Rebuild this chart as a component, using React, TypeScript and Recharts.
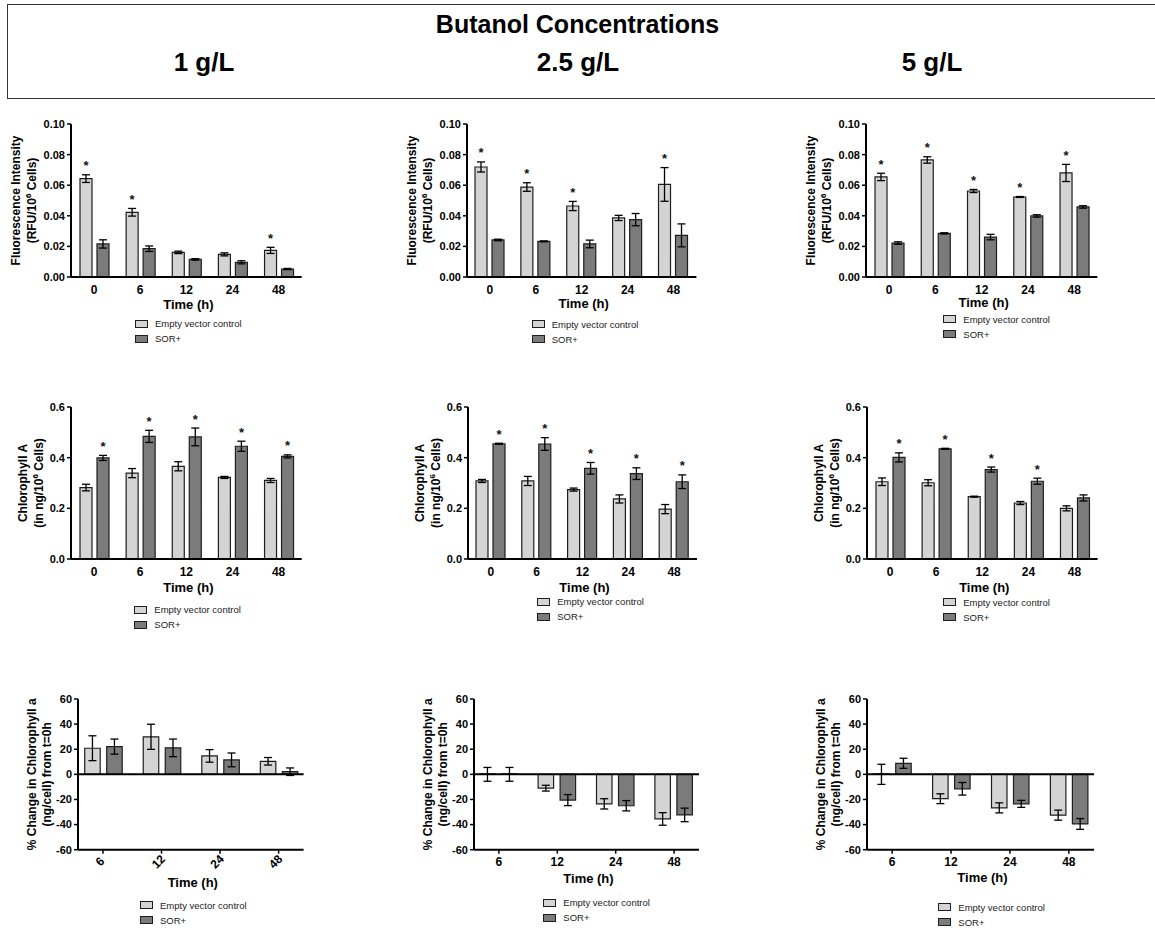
import React from 'react';
import { BarChart, Bar, XAxis, YAxis, ErrorBar, LabelList, Legend, ReferenceLine } from 'recharts';

const FONT = 'Arial, "Liberation Sans", Helvetica, sans-serif';
const LIGHT = '#d4d4d4';
const DARK = '#7b7b7b';
const EDGE = '#1e1e1e';

const hours = ['0', '6', '12', '24', '48'];
const changeHours = ['6', '12', '24', '48'];

// Fluorescence intensity (RFU / 10^6 cells)
const fl1Control = [0.0643, 0.0423, 0.0161, 0.0148, 0.0174];
const fl1ControlErr = [0.0025, 0.0025, 0.0008, 0.001, 0.002];
const fl1Sor = [0.0216, 0.0185, 0.0115, 0.0096, 0.0052];
const fl1SorErr = [0.0027, 0.0018, 0.0005, 0.001, 0.0004];
const fl1Sig = [true, true, false, false, true];

const fl25Control = [0.0719, 0.0588, 0.0464, 0.0386, 0.0605];
const fl25ControlErr = [0.0033, 0.0028, 0.003, 0.0017, 0.011];
const fl25Sor = [0.0242, 0.0233, 0.0216, 0.0375, 0.0272];
const fl25SorErr = [0.0005, 0.0003, 0.0025, 0.004, 0.0075];
const fl25Sig = [true, true, true, false, true];

const fl5Control = [0.0654, 0.0765, 0.0562, 0.0523, 0.068];
const fl5ControlErr = [0.0024, 0.0021, 0.001, 0.0003, 0.0056];
const fl5Sor = [0.0222, 0.0285, 0.0261, 0.0399, 0.0458];
const fl5SorErr = [0.0008, 0.0004, 0.0018, 0.0008, 0.0008];
const fl5Sig = [true, true, true, true, true];

// Chlorophyll A (ng / 10^6 cells)
const chl1Control = [0.282, 0.339, 0.366, 0.322, 0.31];
const chl1ControlErr = [0.013, 0.018, 0.018, 0.004, 0.008];
const chl1Sor = [0.399, 0.484, 0.482, 0.445, 0.405];
const chl1SorErr = [0.01, 0.024, 0.035, 0.02, 0.006];
const chl1Sig = [true, true, true, true, true];

const chl25Control = [0.308, 0.308, 0.274, 0.237, 0.197];
const chl25ControlErr = [0.006, 0.018, 0.006, 0.016, 0.018];
const chl25Sor = [0.455, 0.454, 0.358, 0.337, 0.305];
const chl25SorErr = [0.002, 0.025, 0.023, 0.023, 0.027];
const chl25Sig = [true, true, true, true, true];

const chl5Control = [0.305, 0.301, 0.246, 0.221, 0.2];
const chl5ControlErr = [0.015, 0.012, 0.002, 0.006, 0.01];
const chl5Sor = [0.401, 0.435, 0.353, 0.307, 0.241];
const chl5SorErr = [0.018, 0.002, 0.01, 0.012, 0.012];
const chl5Sig = [true, true, true, true, false];

// % change in chlorophyll a from t=0h
const ch1Control = [20.8, 29.9, 14.7, 10.4];
const ch1ControlErr = [9.9, 10, 5, 3];
const ch1Sor = [22.1, 21.1, 11.5, 2.1];
const ch1SorErr = [6, 7, 5.5, 3];

const ch25Control = [0, -11, -23.5, -35.5];
const ch25ControlErr = [5.5, 2.3, 4.1, 5];
const ch25Sor = [0, -20.5, -25, -32.3];
const ch25SorErr = [5.5, 4.4, 4.1, 5.4];

const ch5Control = [0, -19.4, -26.7, -32.5];
const ch5ControlErr = [8, 3.9, 4, 4];
const ch5Sor = [8.8, -11.5, -23.5, -39.5];
const ch5SorErr = [4, 5, 2.8, 4.3];

const noSig = [false, false, false, false];

const flTicks = [0, 0.02, 0.04, 0.06, 0.08, 0.1];
const chlTicks = [0, 0.2, 0.4, 0.6];
const changeTicks = [-60, -40, -20, 0, 20, 40, 60];

const LEFT = 80;
const TOP = 25;
const RIGHT = 8;

type PanelProps = {
  axisX: number;
  axisEnd: number;
  top: number;
  bottom: number;
  categories: string[];
  control: number[];
  controlErr: number[];
  sor: number[];
  sorErr: number[];
  sig: boolean[];
  sigOn: 'control' | 'sor';
  domain: [number, number];
  ticks: number[];
  digits: number;
  yLabel: 'fl' | 'chl' | 'change';
  yDx: [number, number];
  barSize: number;
  barGap: number;
  pad: number;
  zeroLine?: boolean;
  rotate?: boolean;
  xTickLine?: boolean;
  tickDy: number;
  timeDy: number;
  legendX: number;
  legendY: number;
};

function yLabelLines(kind: PanelProps['yLabel']) {
  if (kind === 'fl')
    return [
      <>Fluorescence Intensity</>,
      <>
        (RFU/10<tspan dy={-4} fontSize={8}>6</tspan>
        <tspan dy={4}> Cells)</tspan>
      </>,
    ];
  if (kind === 'chl')
    return [
      <>Chlorophyll A</>,
      <>
        (in ng/10<tspan dy={-4} fontSize={8}>6</tspan>
        <tspan dy={4}> Cells)</tspan>
      </>,
    ];
  return [<>% Change in Chlorophyll a</>, <>(ng/cell) from t=0h</>];
}

function Panel(p: PanelProps) {
  const data = p.categories.map((time, i) => ({
    time,
    control: p.control[i],
    controlErr: p.controlErr[i],
    sor: p.sor[i],
    sorErr: p.sorErr[i],
  }));
  const plotW = p.axisEnd - p.axisX;
  const plotH = p.bottom - p.top;
  const width = plotW + LEFT + RIGHT;
  const height = plotH + TOP + 80;
  const left = p.axisX - LEFT;
  const topPx = p.top - TOP;
  const lines = yLabelLines(p.yLabel);

  const starValues = p.sigOn === 'control' ? p.control : p.sor;
  const starErrs = p.sigOn === 'control' ? p.controlErr : p.sorErr;

  // asterisk sits a fixed distance above the top of the error bar
  const renderStar = (props: any) => {
    const vb = props.viewBox ?? props;
    const x = Number(props.x ?? vb.x);
    const y = Number(props.y ?? vb.y);
    const w = Number(props.width ?? vb.width);
    const h = Number(props.height ?? vb.height);
    const i = props.index;
    if (!p.sig[i] || !starValues[i]) return null;
    const errTop = y - (starErrs[i] * h) / starValues[i];
    return (
      <text key={`s${i}`} x={x + w / 2} y={errTop - 12 + 7.5} textAnchor="middle" fontSize={13} fontWeight={700} fontFamily={FONT} fill="#111">
        *
      </text>
    );
  };

  const renderTick = (props: any) => {
    const { x, y, payload } = props;
    const base = Number(y) - (p.xTickLine ? 4 : 0);
    if (p.rotate) {
      return (
        <text transform={`translate(${x - 3},${base + p.tickDy}) rotate(-45)`} textAnchor="middle" dominantBaseline="central" fontSize={12} fontWeight={700} fontFamily={FONT} fill="#000">
          {payload.value}
        </text>
      );
    }
    return (
      <text x={x} y={base + p.tickDy} textAnchor="middle" dominantBaseline="central" fontSize={12} fontWeight={700} fontFamily={FONT} fill="#000">
        {payload.value}
      </text>
    );
  };

  const renderTime = (props: any) => {
    const vb = props.viewBox;
    return (
      <text x={vb.x + vb.width / 2 + 2} y={vb.y + p.timeDy} textAnchor="middle" dominantBaseline="central" fontSize={13} fontWeight={700} fontFamily={FONT} fill="#000">
        Time (h)
      </text>
    );
  };

  const renderYLabel = (props: any) => {
    const vb = props.viewBox;
    const axis = vb.x + vb.width;
    const cy = vb.y + vb.height / 2;
    return (
      <g>
        {lines.map((line, k) => (
          <text key={k} transform={`translate(${axis - p.yDx[k]},${cy}) rotate(-90)`} textAnchor="middle" dominantBaseline="central" fontSize={12} fontWeight={700} fontFamily={FONT} fill="#000">
            {line}
          </text>
        ))}
      </g>
    );
  };

  const renderLegend = (props: any) => (
    <div style={{ fontFamily: FONT, fontSize: 9.5, color: '#222' }}>
      {(props.payload ?? []).map((entry: any) => (
        <div key={entry.value} style={{ display: 'flex', alignItems: 'center', height: 15, whiteSpace: 'nowrap' }}>
          <span style={{ display: 'inline-block', width: 13, height: 8, background: entry.color, border: `1px solid ${EDGE}`, boxSizing: 'border-box', marginRight: 7 }} />
          {entry.value}
        </div>
      ))}
    </div>
  );

  // a hairline minimum keeps zero-height bars (and their error bars) in the layout;
  // the zero line drawn on top hides it
  const minPt = p.zeroLine ? 0.5 : 0;

  return (
    <div style={{ position: 'absolute', left, top: topPx, width, height }}>
      <BarChart width={width} height={height} data={data} margin={{ top: TOP, right: RIGHT, bottom: 50, left: 0 }} barSize={p.barSize} barGap={p.barGap}>
        <XAxis
          dataKey="time"
          height={30}
          interval={0}
          padding={{ left: p.pad, right: p.pad }}
          axisLine={{ stroke: '#000', strokeWidth: 2 }}
          tickLine={p.xTickLine ? { stroke: '#000', strokeWidth: 1.5 } : false}
          tickSize={p.xTickLine ? 4 : 0}
          tickMargin={0}
          tick={renderTick}
          label={{ content: renderTime }}
        />
        <YAxis
          width={LEFT}
          domain={p.domain}
          ticks={p.ticks}
          interval={0}
          allowDataOverflow
          tickFormatter={(v: number) => v.toFixed(p.digits)}
          axisLine={{ stroke: '#000', strokeWidth: 2 }}
          tickLine={{ stroke: '#000', strokeWidth: 1.5 }}
          tickSize={4}
          tickMargin={2}
          tick={{ fontSize: 11, fontWeight: 700, fill: '#000', fontFamily: FONT }}
          label={{ content: renderYLabel }}
        />
        <Legend
          layout="vertical"
          align="center"
          verticalAlign="middle"
          content={renderLegend}
          wrapperStyle={{ left: p.legendX - left, top: p.legendY - 7.5 - topPx, width: 'auto', height: 'auto' }}
        />
        <Bar dataKey="control" name="Empty vector control" fill={LIGHT} stroke={EDGE} strokeWidth={1.2} minPointSize={minPt} isAnimationActive={false}>
          <ErrorBar dataKey="controlErr" width={4} stroke="#000" strokeWidth={1.3} isAnimationActive={false} />
          {p.sigOn === 'control' && <LabelList dataKey="control" content={renderStar} />}
        </Bar>
        <Bar dataKey="sor" name="SOR+" fill={DARK} stroke={EDGE} strokeWidth={1.2} minPointSize={minPt} isAnimationActive={false}>
          <ErrorBar dataKey="sorErr" width={4} stroke="#000" strokeWidth={1.3} isAnimationActive={false} />
          {p.sigOn === 'sor' && <LabelList dataKey="sor" content={renderStar} />}
        </Bar>
        {p.zeroLine && <ReferenceLine y={0} stroke="#000" strokeWidth={2} />}
      </BarChart>
    </div>
  );
}

const flBase = { top: 124.3, bottom: 277.3, categories: hours, domain: [0, 0.1] as [number, number], ticks: flTicks, digits: 2, yLabel: 'fl' as const, yDx: [55, 39] as [number, number], barSize: 12, barGap: 5, pad: 0, sigOn: 'control' as const, tickDy: 13.4 };
const chlBase = { top: 407.3, bottom: 559.3, categories: hours, domain: [0, 0.6] as [number, number], ticks: chlTicks, digits: 1, yLabel: 'chl' as const, yDx: [48, 32] as [number, number], barSize: 12, barGap: 5, pad: 0, sigOn: 'sor' as const, tickDy: 13.2, timeDy: 28.5 };
const chBase = { top: 699, bottom: 849.7, categories: changeHours, domain: [-60, 60] as [number, number], ticks: changeTicks, digits: 0, yLabel: 'change' as const, yDx: [46, 31] as [number, number], barSize: 15.5, barGap: 6.5, pad: -4.3, sigOn: 'sor' as const, sig: noSig, zeroLine: true, xTickLine: true, tickDy: 12.3 };

export default function App() {
  return (
    <div style={{ position: 'absolute', left: 0, top: 0, width: 1155, height: 928, background: '#fff', overflow: 'hidden', fontFamily: FONT }}>
      <div style={{ position: 'absolute', left: 7, top: 4, width: 1170, height: 95, border: '1.5px solid #333', boxSizing: 'border-box' }} />
      <div style={{ position: 'absolute', left: 0, width: 1155, top: 10, textAlign: 'center', fontSize: 25, fontWeight: 700, color: '#000' }}>Butanol Concentrations</div>
      {[
        ['1 g/L', 204],
        ['2.5 g/L', 578],
        ['5 g/L', 932],
      ].map(([t, cx]) => (
        <div key={t as string} style={{ position: 'absolute', left: (cx as number) - 100, width: 200, top: 47, textAlign: 'center', fontSize: 26, fontWeight: 700, color: '#000' }}>
          {t}
        </div>
      ))}
      <div style={{ position: 'absolute', left: -9, top: 116, fontSize: 24, fontWeight: 700, color: '#000' }}>)</div>
      <div style={{ position: 'absolute', left: -9, top: 402, fontSize: 24, fontWeight: 700, color: '#000' }}>)</div>

      <Panel {...flBase} axisX={71} axisEnd={301.7} control={fl1Control} controlErr={fl1ControlErr} sor={fl1Sor} sorErr={fl1SorErr} sig={fl1Sig} timeDy={27.7} legendX={135} legendY={324} />
      <Panel {...flBase} axisX={467.3} axisEnd={696.7} control={fl25Control} controlErr={fl25ControlErr} sor={fl25Sor} sorErr={fl25SorErr} sig={fl25Sig} timeDy={27} legendX={531.7} legendY={324.3} />
      <Panel {...flBase} axisX={866} axisEnd={1097.3} control={fl5Control} controlErr={fl5ControlErr} sor={fl5Sor} sorErr={fl5SorErr} sig={fl5Sig} timeDy={26} legendX={943.3} legendY={319.3} />

      <Panel {...chlBase} axisX={71} axisEnd={301.7} control={chl1Control} controlErr={chl1ControlErr} sor={chl1Sor} sorErr={chl1SorErr} sig={chl1Sig} legendX={134.3} legendY={610} />
      <Panel {...chlBase} axisX={467.7} axisEnd={696.7} control={chl25Control} controlErr={chl25ControlErr} sor={chl25Sor} sorErr={chl25SorErr} sig={chl25Sig} legendX={537.3} legendY={602} />
      <Panel {...chlBase} axisX={866.7} axisEnd={1097.3} control={chl5Control} controlErr={chl5ControlErr} sor={chl5Sor} sorErr={chl5SorErr} sig={chl5Sig} legendX={943.3} legendY={602.3} />

      <Panel {...chBase} axisX={77.7} axisEnd={303.3} control={ch1Control} controlErr={ch1ControlErr} sor={ch1Sor} sorErr={ch1SorErr} rotate tickDy={12} timeDy={33.3} legendX={140} legendY={905} />
      <Panel {...chBase} axisX={474.3} axisEnd={699.3} control={ch25Control} controlErr={ch25ControlErr} sor={ch25Sor} sorErr={ch25SorErr} timeDy={29.3} legendX={543.3} legendY={902.7} />
      <Panel {...chBase} axisX={867.3} axisEnd={1094.3} control={ch5Control} controlErr={ch5ControlErr} sor={ch5Sor} sorErr={ch5SorErr} timeDy={28.3} legendX={938.3} legendY={907.3} />
    </div>
  );
}
